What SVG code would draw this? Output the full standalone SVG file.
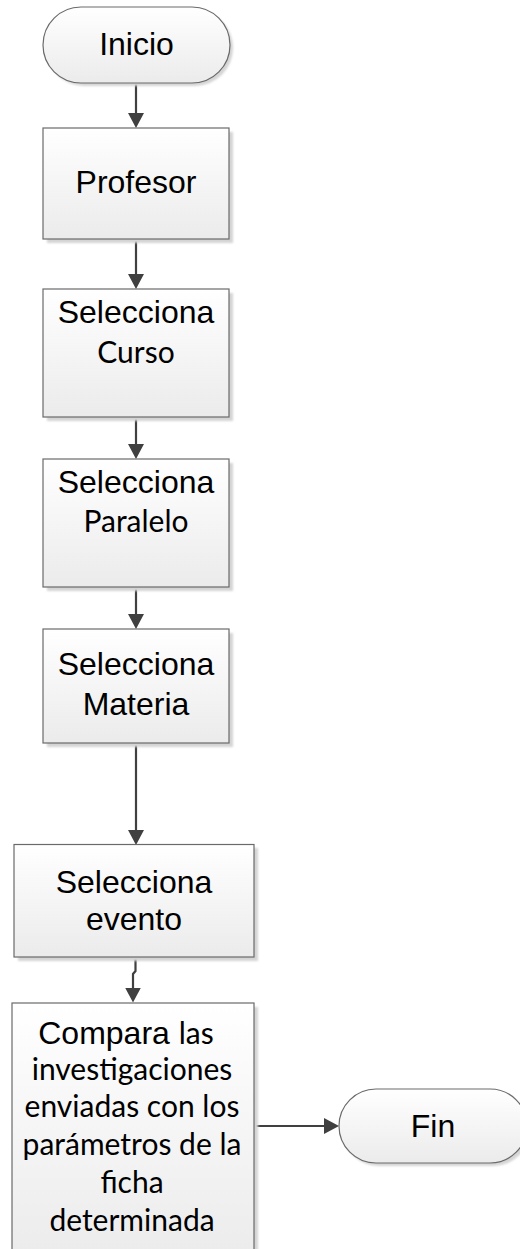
<svg xmlns="http://www.w3.org/2000/svg" width="520" height="1249" viewBox="0 0 520 1249">
  <defs>
    <linearGradient id="fillGrad" x1="0" y1="0" x2="0" y2="1">
      <stop offset="0" stop-color="#ffffff"/>
      <stop offset="1" stop-color="#ebebeb"/>
    </linearGradient>
    <filter id="blur" x="-10%" y="-10%" width="120%" height="120%">
      <feGaussianBlur stdDeviation="1.2"/>
    </filter>
    <marker id="arrow" viewBox="0 0 15 16" refX="11" refY="8" markerWidth="15" markerHeight="16" markerUnits="userSpaceOnUse" orient="auto">
      <path d="M0,0 L15,8 L0,16 z" fill="#404040"/>
    </marker>
    <style>
      .shape { fill: url(#fillGrad); stroke: #6a6a6a; stroke-width: 1.2; }
      .shadow { fill: #d4d4d4; filter: url(#blur); }
      .arial { font-family: "Liberation Sans", Arial, sans-serif; font-size: 32px; fill: #000; }
      .cal { font-family: Lato, "Open Sans", sans-serif; font-size: 30px; fill: #000; }
      .conn { fill: none; stroke: #404040; stroke-width: 2.2; marker-end: url(#arrow); }
    </style>
  </defs>

  <g id="connectors">
    <path class="conn" d="M136,83 V124"/>
    <path class="conn" d="M136,239 V285"/>
    <path class="conn" d="M136,417 V455"/>
    <path class="conn" d="M136,587 V625"/>
    <path class="conn" d="M136,743 V841"/>
    <path class="conn" d="M135.5,957 V971 L133,974 V998.5"/>
    <path class="conn" d="M254,1126 H335"/>
  </g>

  <g id="inicio">
    <rect class="shadow" x="46" y="10" width="187" height="76" rx="38"/>
    <rect class="shape" x="43" y="7" width="187" height="76" rx="38"/>
    <text class="arial" x="136.5" y="55" text-anchor="middle">Inicio</text>
  </g>

  <g id="profesor">
    <rect class="shadow" x="47" y="132" width="186" height="111"/>
    <rect class="shape" x="43" y="128" width="186" height="111"/>
    <text class="arial" x="136" y="193" text-anchor="middle">Profesor</text>
  </g>

  <g id="curso">
    <rect class="shadow" x="47" y="293" width="186" height="128"/>
    <rect class="shape" x="43" y="289" width="186" height="128"/>
    <text class="arial" x="136" y="323" text-anchor="middle">Selecciona</text>
    <text class="cal" x="136" y="363" text-anchor="middle">Curso</text>
  </g>

  <g id="paralelo">
    <rect class="shadow" x="47" y="463" width="186" height="128"/>
    <rect class="shape" x="43" y="459" width="186" height="128"/>
    <text class="arial" x="136" y="493" text-anchor="middle">Selecciona</text>
    <text class="cal" x="136" y="532" text-anchor="middle">Paralelo</text>
  </g>

  <g id="materia">
    <rect class="shadow" x="47" y="633" width="186" height="114"/>
    <rect class="shape" x="43" y="629" width="186" height="114"/>
    <text class="arial" x="136" y="675" text-anchor="middle">Selecciona</text>
    <text class="arial" x="136" y="715" text-anchor="middle">Materia</text>
  </g>

  <g id="evento">
    <rect class="shadow" x="18" y="848" width="240" height="113"/>
    <rect class="shape" x="14" y="844.5" width="240" height="112.5"/>
    <text class="arial" x="134" y="893" text-anchor="middle">Selecciona</text>
    <text class="arial" x="134" y="930" text-anchor="middle">evento</text>
  </g>

  <g id="compara">
    <rect class="shadow" x="16" y="1007" width="242" height="260"/>
    <rect class="shape" x="12" y="1003" width="242" height="260"/>
    <text x="126" y="1044" text-anchor="middle"><tspan class="arial">Compara </tspan><tspan class="cal">las</tspan></text>
    <text class="cal" x="132" y="1080" text-anchor="middle">investigaciones</text>
    <text class="cal" x="132" y="1117" text-anchor="middle">enviadas con los</text>
    <text class="cal" x="132" y="1155" text-anchor="middle">parámetros de la</text>
    <text class="cal" x="132" y="1193" text-anchor="middle">ficha</text>
    <text class="cal" x="132" y="1231" text-anchor="middle">determinada</text>
  </g>

  <g id="fin">
    <rect class="shadow" x="342" y="1092" width="188" height="74" rx="37"/>
    <rect class="shape" x="339" y="1089" width="188" height="74" rx="37"/>
    <text class="arial" x="433" y="1137" text-anchor="middle">Fin</text>
  </g>
</svg>
